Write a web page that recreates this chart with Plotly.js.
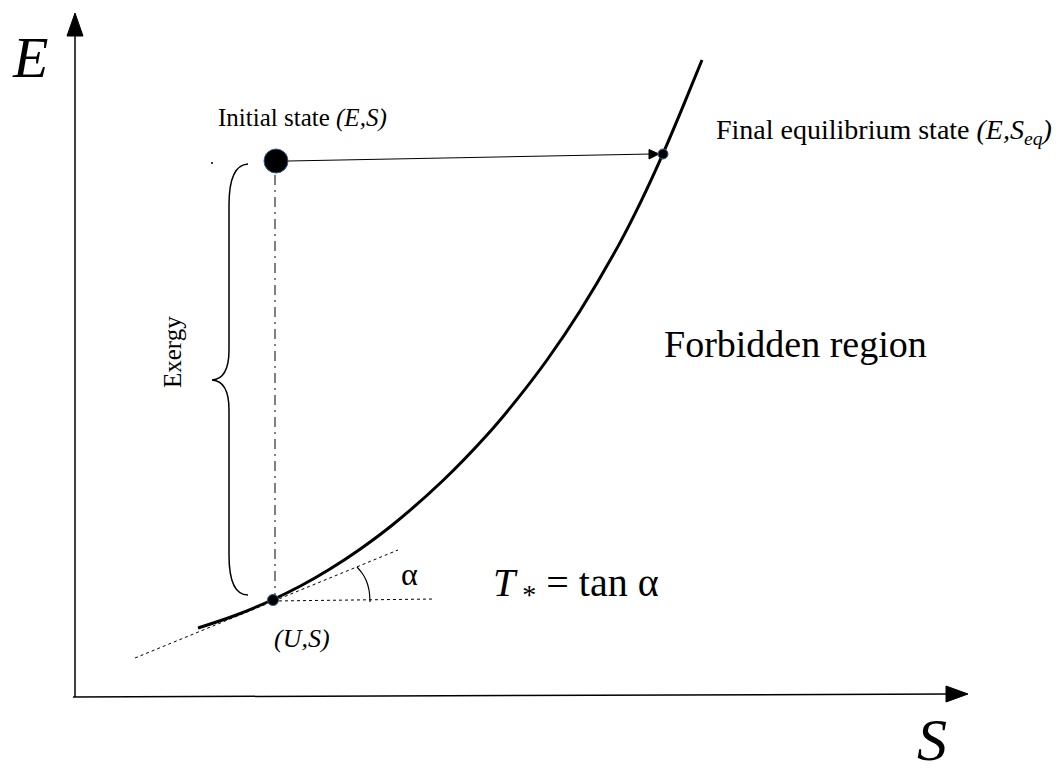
<!DOCTYPE html>
<html>
<head>
<meta charset="utf-8">
<script src="https://cdn.plot.ly/plotly-3.0.1.min.js"></script>
<style>html,body{margin:0;padding:0;background:#fff;}#chart{width:1061px;height:770px;}</style>
</head>
<body>
<div id="chart"></div>
<script>
// Equilibrium curve E(S) (diagram units = picture pixels, y downward)
const curveS = [198, 235, 272, 300, 330, 360, 393, 443, 487, 517, 547, 580, 620, 641, 663, 683, 702];
const curveE = [628, 615.5, 600, 586.3, 569, 549.2, 524.5, 480.5, 435, 399.4, 360, 311, 242.6, 201.4, 153.6, 106.4, 60];

// Axes
const axisYS = [75, 75];      const axisYE = [697, 30];
const axisXS = [73, 950];     const axisXE = [697, 694];
const headYS = [75, 67, 83, 75];     const headYE = [13, 36, 36, 13];
const headXS = [968, 946, 946, 968]; const headXE = [694, 686, 702, 694];

// States
const initialS = [276], initialE = [161];
const finalS = [663], finalE = [154];
const moveS = [288, 652], moveE = [161, 154];
const headMS = [659, 649, 649, 659], headME = [154, 149.5, 159, 154];
const dropS = [275, 275], dropE = [175, 596];
const refS = [273], refE = [600];

// Tangent and horizontal at (U,S), angle arc
const tanS = [135, 398], tanE = [658, 550];
const horS = [273, 435], horE = [601, 599];
const arcS = [370, 369, 366, 362, 357], arcE = [602, 590, 580, 573, 567];

// Brace points
const braceX = [248, 229, 229, 229, 229, 212, 229, 229, 229, 229, 248];
const braceY = [164, 165, 205, 350, 379, 380, 381, 410, 555, 595, 595];
const strayS = [212], strayE = [163];

const fontFam = '"Liberation Serif", "DejaVu Serif", serif';

function line(x, y, w, dash, shape) {
  return {x: x, y: y, mode: 'lines', type: 'scatter', hoverinfo: 'skip',
          line: {color: 'black', width: w, dash: dash || 'solid', shape: shape || 'linear'}};
}
function tri(x, y) {
  return {x: x, y: y, mode: 'lines', type: 'scatter', fill: 'toself', fillcolor: 'black',
          line: {color: 'black', width: 1}, hoverinfo: 'skip'};
}

const traces = [
  line(axisYS, axisYE, 1.5), tri(headYS, headYE),
  line(axisXS, axisXE, 1.5), tri(headXS, headXE),
  line(curveS, curveE, 3, 'solid', 'spline'),
  line(tanS, tanE, 1, 'dot'),
  line(horS, horE, 1, 'dot'),
  line(arcS, arcE, 1.2, 'solid', 'spline'),
  line(dropS, dropE, 1, '10px,5px,2px,5px'),
  line(moveS, moveE, 1.2), tri(headMS, headME),
  {x: initialS, y: initialE, mode: 'markers', type: 'scatter', hoverinfo: 'skip',
   marker: {size: 24, color: 'black', line: {color: '#2c5d9a', width: 1}}},
  {x: finalS, y: finalE, mode: 'markers', type: 'scatter', hoverinfo: 'skip',
   marker: {size: 10, color: 'black', symbol: 'circle', line: {color: '#2c5d9a', width: 1}}},
  {x: refS, y: refE, mode: 'markers', type: 'scatter', hoverinfo: 'skip',
   marker: {size: 11, color: 'black', line: {color: '#2c5d9a', width: 1}}},
  {x: strayS, y: strayE, mode: 'markers', type: 'scatter', hoverinfo: 'skip',
   marker: {size: 2, color: 'black'}}
];

const bp = (i) => braceX[i] + ',' + braceY[i];
const bracePath = 'M' + bp(0) + ' Q' + bp(1) + ' ' + bp(2) + ' L' + bp(3) +
  ' Q' + bp(4) + ' ' + bp(5) + ' Q' + bp(6) + ' ' + bp(7) + ' L' + bp(8) +
  ' Q' + bp(9) + ' ' + bp(10);

function txt(x, y, text, size, anchor, extra) {
  return Object.assign({x: x, y: y, xref: 'x', yref: 'y', text: text, showarrow: false,
    xanchor: anchor || 'center', yanchor: 'middle',
    font: {family: fontFam, size: size, color: 'black'}}, extra || {});
}

const annotations = [
  txt(30, 57, '<i>E</i>', 58),
  txt(932, 740, '<i>S</i>', 60),
  txt(216, 118, 'Initial state <i>(E,S)</i>', 25, 'left'),
  txt(714, 131, 'Final equilibrium state <i>(E,S<sub>eq</sub>)</i>', 28, 'left'),
  txt(172, 352, 'Exergy', 25, 'center', {textangle: -90}),
  txt(662, 344, 'Forbidden region', 38, 'left'),
  txt(409, 574, 'α', 32),
  txt(491, 585, '<i>T</i><sub> *</sub> = tan α', 40, 'left'),
  txt(302, 638, '<i>(U,S)</i>', 26)
];

const layout = {
  width: 1061, height: 770,
  margin: {l: 0, r: 0, t: 0, b: 0},
  paper_bgcolor: 'white', plot_bgcolor: 'white',
  showlegend: false,
  xaxis: {range: [0, 1061], visible: false, fixedrange: true},
  yaxis: {range: [770, 0], visible: false, fixedrange: true},
  shapes: [{type: 'path', path: bracePath, line: {color: 'black', width: 1.5}, xref: 'x', yref: 'y'}],
  annotations: annotations
};

Plotly.newPlot('chart', traces, layout, {staticPlot: true, displayModeBar: false});
</script>
</body>
</html>
